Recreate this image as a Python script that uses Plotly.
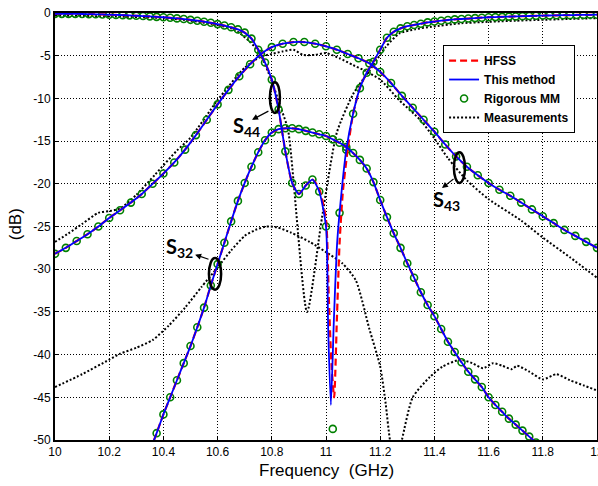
import plotly.graph_objects as go

# ---------------- data ----------------
# Rigorous MM samples: S44 on a 0.025 GHz grid from 10 to 12 GHz
s44_f = [round(10.0 + 0.025 * i, 3) for i in range(81)]
s44_db = [-0.10, -0.10, -0.10, -0.10, -0.12, -0.13, -0.15, -0.17, -0.20, -0.22,
          -0.25, -0.28, -0.32, -0.36, -0.40, -0.45, -0.50, -0.56, -0.63, -0.71,
          -0.80, -0.90, -1.02, -1.15, -1.30, -1.47, -1.67, -1.92, -2.30, -3.00,
          -4.30, -5.80, -7.80, -11.3, -16.2, -19.9, -21.2, -20.2, -19.5, -20.9,
          -25.0, -48.7, -23.4, -16.0, -11.8, -8.8, -7.0, -5.7, -4.3, -2.9,
          -2.2, -1.8, -1.55, -1.4, -1.25, -1.1, -1.0, -0.9, -0.82, -0.75,
          -0.70, -0.65, -0.60, -0.55, -0.50, -0.48, -0.45, -0.42, -0.40, -0.37,
          -0.35, -0.33, -0.30, -0.29, -0.27, -0.26, -0.25, -0.23, -0.22, -0.21,
          -0.20]

# S43 on a 0.04 GHz grid
s43_f = [round(10.0 + 0.04 * i, 3) for i in range(51)]
s43_db = [-28.2, -27.5, -26.7, -25.9, -25.0, -24.0, -23.1, -22.2, -21.2, -20.0,
          -18.8, -17.5, -16.0, -14.3, -12.5, -10.7, -9.0, -7.4, -6.0, -4.8,
          -4.0, -3.6, -3.4, -3.4, -3.6, -3.9, -4.3, -4.8, -5.3, -5.9,
          -6.9, -8.2, -9.7, -11.1, -12.5, -13.9, -15.4, -16.8, -18.0, -19.0,
          -19.9, -20.7, -21.4, -22.2, -23.0, -23.8, -24.6, -25.4, -26.1, -26.8,
          -27.5]

# S32 on a 0.025 GHz grid from 10.35 GHz
s32_f = [round(10.35 + 0.025 * i, 3) for i in range(58)]
s32_db = [-51.3, -49.2, -47.0, -45.0, -43.0, -41.0, -39.0, -36.8, -34.5, -31.9,
          -29.4, -26.9, -24.4, -22.0, -19.9, -18.0, -16.3, -14.9, -14.0, -13.6,
          -13.5, -13.5, -13.6, -13.8, -14.0, -14.2, -14.4, -14.8, -15.2, -15.7,
          -16.4, -17.2, -18.2, -19.8, -21.9, -23.9, -25.8, -27.5, -29.3, -31.0,
          -32.7, -34.2, -35.5, -37.0, -38.5, -39.7, -40.9, -42.0, -42.9, -43.8,
          -45.0, -45.9, -46.7, -47.5, -48.2, -48.9, -49.6, -50.3]

# Deep S44 null of "This method" and of HFSS
tm_null_f = [11.008, 11.018, 11.029, 11.040]
tm_null_db = [-37.0, -45.9, -36.0, -27.5]
hf_null_f = [10.975, 11.0, 11.01, 11.02, 11.03, 11.04, 11.05, 11.062, 11.08]
hf_null_db = [-20.6, -24.2, -33.0, -41.0, -45.0, -36.0, -27.0, -21.0, -16.0]

# Measurements
m44_f = [10.0, 10.2, 10.4, 10.5, 10.6, 10.65, 10.683, 10.72, 10.756, 10.8, 10.83,
         10.86, 10.93, 10.985, 11.04, 11.1, 11.17, 11.22, 11.27, 11.33, 11.39,
         11.5, 11.7, 12.0]
m44_db = [-0.3, -0.4, -0.6, -0.9, -1.4, -1.8, -2.4, -3.4, -4.7, -8.0, -10.8,
          -13.7, -35.0, -24.0, -14.0, -9.5, -6.3, -4.0, -2.4, -1.9, -1.6,
          -1.2, -0.9, -0.6]
m43_f = [10.0, 10.05, 10.1, 10.16, 10.2, 10.24, 10.3, 10.37, 10.45, 10.5, 10.6,
         10.7, 10.76, 10.8, 10.84, 10.88, 10.915, 10.96, 11.0, 11.05, 11.1, 11.14,
         11.2, 11.27, 11.35, 11.4, 11.45, 11.52, 11.6, 11.72, 11.8, 11.9, 12.0]
m43_db = [-26.8, -25.8, -24.7, -23.4, -23.2, -22.9, -21.3, -18.9, -16.1, -14.6, -10.2,
          -6.4, -5.1, -4.8, -4.5, -4.3, -4.9, -4.9, -4.7, -5.3, -6.1, -6.7,
          -7.8, -10.2, -12.6, -14.7, -17.0, -19.6, -21.8, -24.3, -26.3, -28.6, -31.0]
m32_f = [10.0, 10.1, 10.2, 10.24, 10.3, 10.36, 10.42, 10.48, 10.54, 10.6, 10.65,
         10.7, 10.74, 10.78, 10.82, 10.87, 10.94, 11.0, 11.06, 11.11, 11.16, 11.2,
         11.22, 11.236, 11.258, 11.28, 11.32, 11.384, 11.43, 11.494, 11.54, 11.58,
         11.616, 11.65, 11.686, 11.705, 11.75, 11.8, 11.85, 11.9, 11.95, 12.0]
m32_db = [-43.8, -42.3, -40.6, -39.9, -39.2, -38.3, -36.6, -34.5, -32.1, -29.8, -27.8,
          -26.1, -25.4, -25.0, -25.1, -25.7, -26.8, -28.0, -29.3, -31.3, -37.0, -41.4,
          -45.7, -50.0, -53.0, -50.0, -45.0, -42.6, -41.4, -40.6, -41.0, -41.6,
          -41.0, -41.3, -41.7, -41.3, -42.0, -42.9, -42.3, -43.0, -43.6, -44.2]

x_ticks = [10, 10.2, 10.4, 10.6, 10.8, 11, 11.2, 11.4, 11.6, 11.8, 12]
x_ticktext = ["10", "10.2", "10.4", "10.6", "10.8", "11", "11.2", "11.4", "11.6", "11.8", "12"]
y_ticks = [0, -5, -10, -15, -20, -25, -30, -35, -40, -45, -50]
y_ticktext = ["0", "-5", "-10", "-15", "-20", "-25", "-30", "-35", "-40", "-45", "-50"]

# "This method" and HFSS S44 curves (MM samples + their deep null)
tm44_f = s44_f[:41] + tm_null_f + s44_f[42:]
tm44_db = s44_db[:41] + tm_null_db + s44_db[42:]
hf44_f = s44_f[:39] + hf_null_f + s44_f[44:]
hf44_db = s44_db[:39] + hf_null_db + s44_db[44:]

# ---------------- figure ----------------
RED, BLUE, GREEN = "#ff0000", "#0000ff", "#008000"
fig = go.Figure()

meas = [(m44_f, m44_db), (m43_f, m43_db), (m32_f, m32_db)]
for i, (f, d) in enumerate(meas):
    fig.add_trace(go.Scatter(x=f, y=d, mode="lines", name="Measurements",
                             legendgroup="meas", showlegend=(i == 0), legendrank=4,
                             line=dict(color="black", width=2, dash="2px,2px",
                                       shape="spline", smoothing=0.6)))

mm = [(s44_f, s44_db), (s43_f, s43_db), (s32_f, s32_db)]
for i, (f, d) in enumerate(mm):
    fig.add_trace(go.Scatter(x=f, y=d, mode="markers", name="Rigorous MM",
                             legendgroup="mm", showlegend=(i == 0), legendrank=3,
                             marker=dict(symbol="circle-open", size=7, color=GREEN,
                                         line=dict(width=1.6, color=GREEN))))

hf = [(hf44_f, hf44_db), (s43_f, s43_db), (s32_f, s32_db)]
for i, (f, d) in enumerate(hf):
    fig.add_trace(go.Scatter(x=f, y=d, mode="lines", name="HFSS",
                             legendgroup="hfss", showlegend=(i == 0), legendrank=1,
                             line=dict(color=RED, width=2.2, dash="7px,4px",
                                       shape="spline", smoothing=0.6)))

tm = [(tm44_f, tm44_db), (s43_f, s43_db), (s32_f, s32_db)]
for i, (f, d) in enumerate(tm):
    fig.add_trace(go.Scatter(x=f, y=d, mode="lines", name="This method",
                             legendgroup="tm", showlegend=(i == 0), legendrank=2,
                             line=dict(color=BLUE, width=1.8,
                                       shape="spline", smoothing=0.6)))

axis_common = dict(showgrid=True, gridcolor="black", gridwidth=1, griddash="1px,2px",
                   showline=True, linecolor="black", linewidth=2, mirror=True,
                   ticks="inside", ticklen=4, tickcolor="black", zeroline=False,
                   automargin=False, ticklabeloverflow="allow",
                   tickfont=dict(family="Liberation Sans, Arial", size=12, color="black"))
fig.update_xaxes(range=[10, 12], tickvals=x_ticks, ticktext=x_ticktext, **axis_common)
fig.update_yaxes(range=[-50, 0], tickvals=y_ticks, ticktext=y_ticktext, **axis_common)

# ellipses around the curves
ell = dict(type="circle", xref="x", yref="y", line=dict(color="black", width=2.5), layer="above")
shapes = [dict(x0=10.793, x1=10.830, y0=-8.1, y1=-11.7, **ell),
          dict(x0=11.472, x1=11.513, y0=-16.3, y1=-19.9, **ell),
          dict(x0=10.568, x1=10.613, y0=-28.7, y1=-32.4, **ell)]

lab_font = dict(family="Lato, Open Sans", size=20, color="black")
arrow = dict(text="", showarrow=True, arrowhead=2, arrowsize=1, arrowwidth=1.2,
             arrowcolor="black", axref="x", ayref="y", xref="x", yref="y", standoff=0)
annotations = [
    dict(x=10.727, y=-12.5, ax=10.793, ay=-11.4, **arrow),
    dict(x=11.428, y=-20.5, ax=11.476, ay=-19.3, **arrow),
    dict(x=10.517, y=-28.3, ax=10.572, ay=-28.9, **arrow),
    dict(x=10.708, y=-13.3, text="<b>S<sub>44</sub></b>", showarrow=False, font=lab_font),
    dict(x=11.443, y=-22.0, text="<b>S<sub>43</sub></b>", showarrow=False, font=lab_font),
    dict(x=10.461, y=-27.5, text="<b>S<sub>32</sub></b>", showarrow=False, font=lab_font),
    dict(x=0.5, y=-0.072, xref="paper", yref="paper", xanchor="center", yanchor="middle",
         text="Frequency  (GHz)", showarrow=False,
         font=dict(family="Liberation Sans, Arial", size=17, color="black")),
    dict(x=-0.074, y=0.505, xref="paper", yref="paper", xanchor="center", yanchor="middle",
         text="(dB)", textangle=-90, showarrow=False,
         font=dict(family="Liberation Sans, Arial", size=17, color="black")),
]

fig.update_layout(
    width=598, height=486,
    margin=dict(l=55, r=1, t=13, b=46),
    paper_bgcolor="white", plot_bgcolor="white",
    shapes=shapes, annotations=annotations,
    legend=dict(x=0.716, y=0.925, xanchor="left", yanchor="top",
                bgcolor="white", bordercolor="black", borderwidth=1,
                font=dict(family="Liberation Sans, Arial", size=12, color="black", weight="bold"),
                tracegroupgap=0),
    showlegend=True,
)

fig.write_html("out.html")
